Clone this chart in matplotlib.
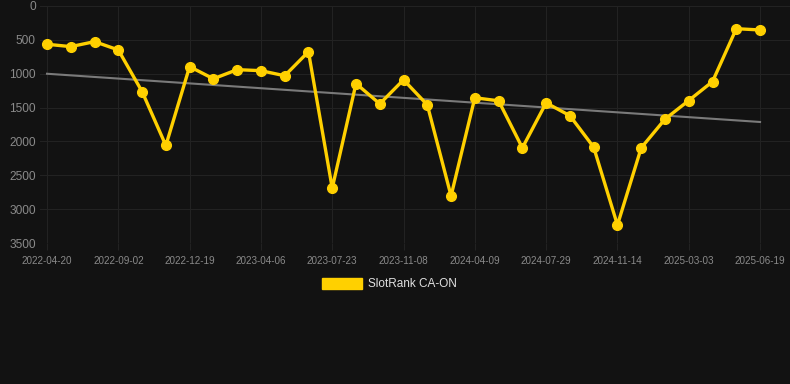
import numpy as np
import matplotlib
matplotlib.use("Agg")
import matplotlib.pyplot as plt
from matplotlib.patches import Patch

plt.rcParams["font.family"] = ["Liberation Sans", "DejaVu Sans"]

DATES = ["2022-04-20", "2022-06-04", "2022-07-19", "2022-09-02", "2022-10-07",
         "2022-11-13", "2022-12-19", "2023-01-23", "2023-03-01", "2023-04-06",
         "2023-05-12", "2023-06-17", "2023-07-23", "2023-08-28", "2023-10-03",
         "2023-11-08", "2023-12-29", "2024-02-18", "2024-04-09", "2024-05-15",
         "2024-06-22", "2024-07-29", "2024-09-03", "2024-10-09", "2024-11-14",
         "2024-12-20", "2025-01-26", "2025-03-03", "2025-04-08", "2025-05-14",
         "2025-06-19"]
RANK = [565, 600, 526, 649, 1264, 2060, 895, 1075, 940, 955,
        1030, 675, 2690, 1145, 1445, 1090, 1460, 2805, 1355, 1400,
        2095, 1430, 1620, 2085, 3235, 2095, 1671, 1396, 1116, 335,
        354]
YTICKS = [0, 500, 1000, 1500, 2000, 2500, 3000, 3500]

BG = "#121212"
GOLD = "#FFD000"

fig = plt.figure(figsize=(7.9, 3.84), dpi=100, facecolor=BG)
ax = fig.add_axes([40 / 790, 1 - 243 / 384, 750 / 790, 237 / 384], facecolor=BG)

x = np.arange(len(RANK))
slope, icpt = np.polyfit(x, RANK, 1)
ax.plot(x, slope * x + icpt, color="#7a7a7a", lw=1.5, zorder=2)
ax.plot(x, RANK, color=GOLD, lw=2.4, marker="o", ms=7, zorder=3)

ax.set_ylim(3500, 0)
ax.set_xlim(-0.295, 31.26)
ax.set_yticks(YTICKS)
ax.set_xticks(x[::3])
ax.set_xticklabels(DATES[::3])
ax.grid(True, color="#222222", lw=0.8)
ax.set_axisbelow(True)
for s in ax.spines.values():
    s.set_visible(False)
ax.tick_params(axis="y", length=0, pad=3, labelsize=8.6, labelcolor="#8a8a8a")
ax.tick_params(axis="x", length=5, color="#222222", pad=4, labelsize=7.1,
               labelcolor="#8a8a8a")

fig.legend([Patch(facecolor=GOLD, edgecolor=GOLD)], ["SlotRank CA-ON"],
           loc="center", bbox_to_anchor=(389.5 / 790, 1 - 284 / 384),
           frameon=False, fontsize=8.5, labelcolor="#e0e0e0",
           handlelength=3.4, handleheight=1.1, handletextpad=0.55)

fig.savefig("out.png", dpi=100, facecolor=BG)
